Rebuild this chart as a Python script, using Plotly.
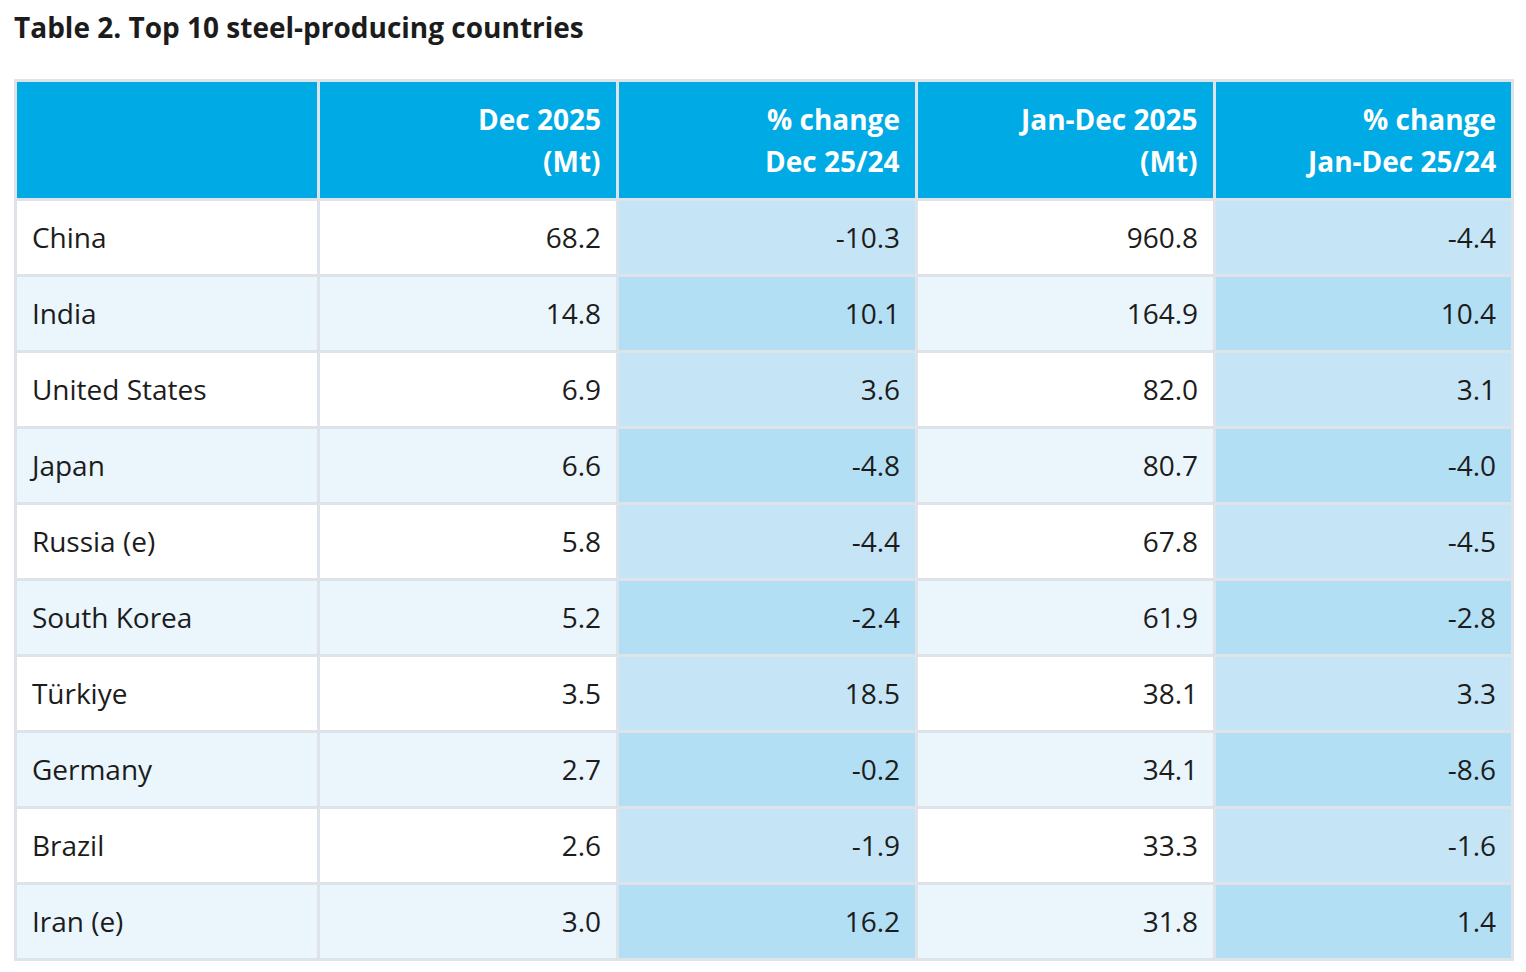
import plotly.graph_objects as go

countries = ["China", "India", "United States", "Japan", "Russia (e)",
             "South Korea", "Türkiye", "Germany", "Brazil", "Iran (e)"]
dec_2025 = [68.2, 14.8, 6.9, 6.6, 5.8, 5.2, 3.5, 2.7, 2.6, 3.0]
dec_change = [-10.3, 10.1, 3.6, -4.8, -4.4, -2.4, 18.5, -0.2, -1.9, 16.2]
ytd_2025 = [960.8, 164.9, 82.0, 80.7, 67.8, 61.9, 38.1, 34.1, 33.3, 31.8]
ytd_change = [-4.4, 10.4, 3.1, -4.0, -4.5, -2.8, 3.3, -8.6, -1.6, 1.4]
header_line1 = ["", "Dec 2025", "% change", "Jan-Dec 2025", "% change"]
header_line2 = ["", "(Mt)", "Dec 25/24", "(Mt)", "Jan-Dec 25/24"]
title = "Table 2. Top 10 steel-producing countries"

# figure canvas (page has an 8px body margin)
W, H = 1518, 964
OFF = 8
col_edges = [15, 318, 617, 916, 1214, 1512]      # page px
col_widths = [b - a for a, b in zip(col_edges[:-1], col_edges[1:])]
TOP = 80
HEADER_H = 119
ROW_H = 76

FS = 28          # visible text size
CELL_FS = 20.8   # base size controlling the leading line shift
LPAD = '<span style="font-size:38px;letter-spacing:-1px">\u00a0</span>'
RPAD = '<span style="font-size:38px;letter-spacing:-2px">\u00a0</span>'


def left_txt(s):
    return f'<br>{LPAD}<span style="font-size:{FS}px">{s}</span>'


def right_txt(v):
    return f'<br><span style="font-size:{FS}px">{v:.1f}</span>{RPAD}'


n = len(countries)
plain = ["#FFFFFF" if i % 2 == 0 else "#EAF5FC" for i in range(n)]
shaded = ["#C5E5F7" if i % 2 == 0 else "#B3DFF5" for i in range(n)]

px = lambda x: (x - OFF) / W
py = lambda y: 1 - (y - OFF) / H

fig = go.Figure(go.Table(
    domain=dict(x=[px(col_edges[0]), px(col_edges[-1])], y=[0.0, py(TOP)]),
    columnwidth=col_widths,
    header=dict(
        values=["" for _ in header_line1],
        fill_color="#00AAE4",
        line=dict(color="#DDE3E8", width=3),
        font=dict(family="Open Sans", size=FS, color="white"),
        height=HEADER_H,
    ),
    cells=dict(
        values=[[left_txt(c) for c in countries],
                [right_txt(v) for v in dec_2025],
                [right_txt(v) for v in dec_change],
                [right_txt(v) for v in ytd_2025],
                [right_txt(v) for v in ytd_change]],
        fill_color=[plain, plain, shaded, plain, shaded],
        line=dict(color="#DDE3E8", width=3),
        align=["left", "right", "right", "right", "right"],
        font=dict(family="Open Sans", size=CELL_FS, color="#1C1C1C"),
        height=ROW_H,
    ),
))

# header labels (two right-aligned lines per column)
for i in range(1, 5):
    xr = col_edges[i + 1] - 14
    for txt, yc in ((header_line1[i], TOP + 39), (header_line2[i], TOP + 81)):
        fig.add_annotation(
            text=f"<b>{txt}</b>", x=px(xr), y=py(yc), xref="paper", yref="paper",
            showarrow=False, xanchor="right", yanchor="middle",
            font=dict(family="Open Sans", size=FS, color="white"),
        )

fig.add_annotation(
    text=f"<b>{title}</b>", x=px(12), y=py(27), xref="paper", yref="paper",
    showarrow=False, xanchor="left", yanchor="middle",
    font=dict(family="Open Sans", size=FS, color="#1C1C1C"),
)
fig.update_layout(
    width=W, height=H,
    margin=dict(l=0, r=0, t=0, b=0),
    paper_bgcolor="white",
)
fig.write_html("out.html")
